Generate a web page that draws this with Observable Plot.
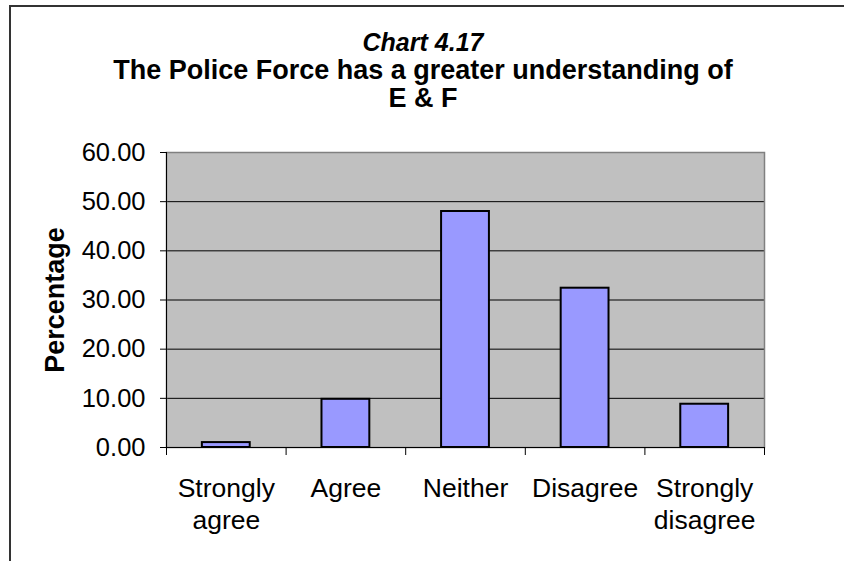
<!DOCTYPE html>
<html>
<head>
<meta charset="utf-8">
<script src="https://cdn.jsdelivr.net/npm/d3@7"></script>
<script src="https://cdn.jsdelivr.net/npm/@observablehq/plot@0.6"></script>
<style>
  html, body { margin: 0; padding: 0; background: #fff; }
  #chart { position: relative; width: 844px; height: 561px; overflow: hidden; font-family: "Liberation Sans", Arial, sans-serif; }
  #border { position: absolute; left: 9px; top: 5px; width: 900px; height: 700px; border-left: 2px solid #333; border-top: 2px solid #333; box-sizing: border-box; }
  #title { position: absolute; left: 9px; width: 828px; top: 28px; text-align: center; font-weight: bold; font-size: 27px; line-height: 28px; color: #000; z-index: 2; }
  #title i { font-style: italic; font-size: 25px; }
  #plot { position: absolute; left: 0; top: 0; }
</style>
</head>
<body>
<div id="chart">
  <div id="border"></div>
  <div id="title"><i>Chart 4.17</i><br>The Police Force has a greater understanding of<br>E &amp; F</div>
  <div id="plot"></div>
</div>
<script>
// Survey responses (percentage of respondents)
const categories = ["Strongly agree", "Agree", "Neither", "Disagree", "Strongly disagree"];
const categoryLabels = ["Strongly\nagree", "Agree", "Neither", "Disagree", "Strongly\ndisagree"];
const percentages = [1.0, 9.8, 48.0, 32.4, 8.8];
const yTicks = [0, 10, 20, 30, 40, 50, 60];

const rows = categories.map((c, i) => ({category: c, label: categoryLabels[i], value: percentages[i], index: i}));
const slots = d3.range(categories.length + 1);

const chart = Plot.plot({
  width: 844,
  height: 561,
  marginLeft: 166,
  marginRight: 80,
  marginTop: 152,
  marginBottom: 114,
  style: {fontFamily: "Liberation Sans, Arial, sans-serif", background: "transparent", color: "#000"},
  x: {domain: [0, categories.length], axis: null},
  y: {domain: [0, 60], axis: null},
  marks: [
    // plot area background
    Plot.frame({fill: "#C0C0C0"}),
    // horizontal gridlines
    Plot.ruleY(yTicks, {stroke: "#000", strokeWidth: 1}),
    // plot area border
    Plot.frame({stroke: "#808080", strokeWidth: 1.5}),
    // bars
    Plot.rectY(rows, {
      x1: d => d.index + 0.3,
      x2: d => d.index + 0.7,
      y1: 0,
      y2: "value",
      fill: "#9999FF",
      stroke: "#000",
      strokeWidth: 2
    }),
    // value axis
    Plot.ruleX([0], {stroke: "#000", strokeWidth: 1}),
    Plot.ruleY([0], {stroke: "#000", strokeWidth: 1}),
    Plot.axisY({
      ticks: yTicks,
      tickFormat: d3.format(".2f"),
      tickSize: 6,
      tickPadding: 15,
      fontSize: 25.5,
      label: null
    }),
    // category boundaries
    Plot.axisX({
      ticks: slots,
      tickFormat: () => "",
      tickSize: 8,
      label: null
    }),
    // category labels
    Plot.text(rows, {
      x: d => d.index + 0.5,
      y: 0,
      text: "label",
      dy: 27,
      lineAnchor: "top",
      lineHeight: 1.2,
      fontSize: 26.5,
      fill: "#000"
    }),
    // value axis title
    Plot.text(["Percentage"], {
      frameAnchor: "left",
      text: d => d,
      rotate: -90,
      textAnchor: "middle",
      dx: -111,
      fontSize: 27,
      fontWeight: "bold",
      fill: "#000"
    })
  ]
});

document.getElementById("plot").appendChild(chart);
</script>
</body>
</html>
